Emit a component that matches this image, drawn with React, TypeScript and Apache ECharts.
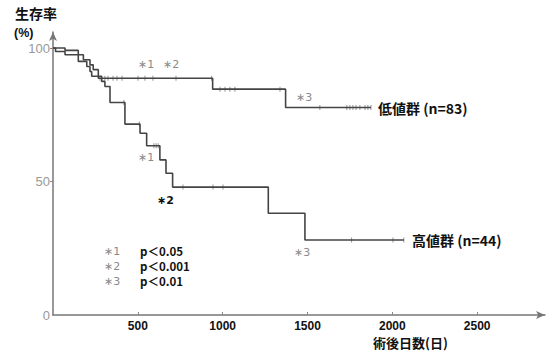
import React, { useEffect, useRef } from "react";
import * as echarts from "echarts";

// Low-value group (低値群, n=83): event times (days) and survival (%) after each step
const lowTimes = [0, 71, 149, 179, 218, 237, 267, 941, 1371, 1874];
const lowSurv = [100, 99.1, 97.5, 95.6, 93.7, 91.9, 88.7, 84.6, 77.7, 77.7];
const lowCensor = [277, 306, 324, 354, 377, 407, 501, 542, 589, 725, 935, 984, 1014, 1043, 1072, 1338, 1573, 1732, 1750, 1768, 1786, 1809, 1839, 1856, 1874];

// High-value group (高値群, n=44)
const highTimes = [0, 15, 71, 149, 199, 218, 228, 287, 306, 336, 424, 513, 552, 630, 666, 705, 1269, 1485, 2068];
const highSurv = [100, 98.7, 97.5, 95.0, 93.1, 91.2, 89.4, 87.5, 85.6, 79.6, 71.5, 68.1, 63.4, 58.1, 53.1, 47.9, 38.1, 28.1, 28.1];
const highCensor = [418, 509, 595, 608, 620, 766, 943, 1002, 1760, 2004, 2068];

const xTicks = [500, 1000, 1500, 2000, 2500];
const yTicks = [0, 50, 100];

const legendMarks = ["∗1", "∗2", "∗3"];
const legendTexts = ["p＜0.05", "p＜0.001", "p＜0.01"];

function survAt(times: number[], surv: number[], t: number) {
  let v = surv[0];
  for (let i = 0; i < times.length; i++) if (times[i] <= t) v = surv[i];
  return v;
}

const FONT = "'Noto Sans CJK JP', 'Noto Sans', sans-serif";
const MARKFONT = "'DejaVu Sans', 'Liberation Sans', sans-serif";

export default function App() {
  const ref = useRef<HTMLDivElement>(null);
  useEffect(() => {
    const chart = echarts.init(ref.current!, null, { renderer: "svg" });
    const gray = "#8a8a8a";
    const txt = (x: number, y: number, text: string, o: any = {}) => ({
      type: "text",
      x,
      y,
      style: {
        text,
        fill: o.fill || "#111",
        font: `${o.weight || "bold"} ${o.size || 12}px ${o.family || FONT}`,
        textVerticalAlign: "middle",
      },
    });
    const mark = (x: number, y: number, text: string, fill = gray, weight = "normal") =>
      txt(x, y, text, { fill, weight, size: 11, family: MARKFONT });
    const graphic: any[] = [
      txt(15, 13, "生存率", { size: 14 }),
      txt(14, 33, "(%)", { size: 12.5, family: "'Liberation Sans', sans-serif" }),
      mark(138, 64, "∗1"),
      mark(163, 64, "∗2"),
      mark(296, 97, "∗3"),
      mark(138, 157, "∗1"),
      mark(157, 200, "∗2", "#111", "bold"),
      mark(294, 252, "∗3"),
      txt(378, 108, "低値群 (n=83)", { size: 14 }),
      txt(412, 240, "高値群 (n=44)", { size: 14 }),
      txt(373, 342, "術後日数(日)", { size: 13 }),
    ];
    legendMarks.forEach((m, i) => {
      graphic.push(mark(104, 251 + i * 15, m));
      graphic.push(txt(140, 251 + i * 15, legendTexts[i], { size: 11.5 }));
    });

    chart.setOption({
      animation: false,
      grid: { left: 53, right: 5, top: 32, bottom: 37 },
      xAxis: {
        type: "value",
        min: 0,
        max: 2900,
        axisLine: {
          show: true,
          symbol: ["none", "arrow"],
          symbolSize: [6, 9],
          lineStyle: { color: "#777", width: 1.5 },
        },
        axisTick: { show: true, inside: true, length: 3, customValues: xTicks, lineStyle: { color: "#888" } },
        axisLabel: {
          customValues: xTicks,
          formatter: (v: number) => String(v),
          color: "#111",
          fontWeight: "bold",
          fontSize: 12,
          fontFamily: "Liberation Sans, Arial, sans-serif",
          margin: 5,
        },
        splitLine: { show: false },
      },
      yAxis: {
        type: "value",
        min: 0,
        max: 106,
        axisLine: {
          show: true,
          symbol: ["none", "arrow"],
          symbolSize: [6, 9],
          lineStyle: { color: "#777", width: 1.5 },
        },
        axisTick: { show: true, length: 3, customValues: [50, 100], lineStyle: { color: "#888" } },
        axisLabel: {
          customValues: yTicks,
          formatter: (v: number) => String(v),
          color: "#999",
          fontSize: 13,
          fontFamily: "Liberation Sans, Arial, sans-serif",
          margin: 3,
        },
        splitLine: { show: false },
      },
      series: [
        {
          type: "line",
          step: "end",
          symbol: "none",
          data: lowTimes.map((t, i) => [t, lowSurv[i]]),
          lineStyle: { color: "#444", width: 1.6 },
        },
        {
          type: "line",
          step: "end",
          symbol: "none",
          data: highTimes.map((t, i) => [t, highSurv[i]]),
          lineStyle: { color: "#444", width: 1.6 },
        },
        {
          type: "scatter",
          symbol: "rect",
          symbolSize: [1, 5],
          data: lowCensor.map((t) => [t, survAt(lowTimes, lowSurv, t)]),
          itemStyle: { color: "#777" },
        },
        {
          type: "scatter",
          symbol: "rect",
          symbolSize: [1, 5],
          data: highCensor.map((t) => [t, survAt(highTimes, highSurv, t)]),
          itemStyle: { color: "#777" },
        },
      ],
      graphic,
    });
    return () => chart.dispose();
  }, []);
  return (
    <div
      ref={ref}
      style={{ position: "absolute", left: 0, top: 0, width: 550, height: 352, background: "#fff" }}
    />
  );
}
